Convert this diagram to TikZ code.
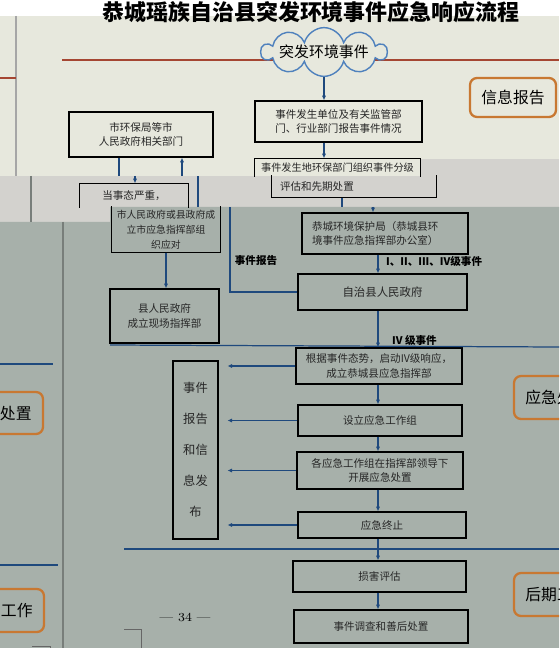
\documentclass[tikz,border=0pt]{standalone}
\usepackage{fontspec}
\usepackage{tikz}
\usetikzlibrary{arrows.meta, positioning, shapes.symbols}
\newfontfamily\cjk{Noto Sans CJK SC}
\definecolor{pagebeige}{RGB}{231,232,221}
\definecolor{bandgray}{RGB}{211,210,206}
\definecolor{pagegreen}{RGB}{167,176,170}
\definecolor{flowblue}{RGB}{31,73,125}
\definecolor{cloudblue}{RGB}{79,129,189}
\definecolor{stageorange}{RGB}{200,120,50}
\definecolor{rulered}{RGB}{165,70,50}
\definecolor{edgegray}{RGB}{120,126,122}
\tikzset{
  box/.style={draw=black, line width=0.8pt, inner sep=1pt, align=center,
    font=\cjk\fontsize{6}{8.5}\selectfont, text=black!85},
  part/.style={box, draw=none},
  rim/.style={draw=black, line width=0.8pt},
  stage/.style={draw=stageorange, line width=1.3pt, rounded corners=4pt,
    minimum width=1.72cm, font=\cjk\fontsize{9}{10}\selectfont},
  flow/.style={draw=flowblue, line width=0.7pt, -{Latex[length=2.6pt,width=2.4pt]}},
  link/.style={draw=flowblue, line width=0.7pt},
  tag/.style={font=\cjk\bfseries\fontsize{6}{7}\selectfont}
}
\begin{document}
\begin{tikzpicture}[x=0.02cm, y=-0.02cm]
        \useasboundingbox (0,0) rectangle (559,648);
        \clip (0,0) rectangle (559,648);
        \fill[white] (0,0) rectangle (559,16);
        \fill[pagebeige] (0,16) rectangle (559,176);
        \fill[bandgray] (0,176) rectangle (559,222);
        \fill[bandgray] (420,159) rectangle (559,176);
        \fill[pagegreen] (0,222) -- (110,222) -- (110,207) -- (559,207)
          -- (559,648) -- (0,648) -- cycle;
        \draw[gray!70, line width=1pt] (16,16) -- (16,176);
        \draw[edgegray, line width=1pt] (31,176) -- (31,222);
        \draw[edgegray, line width=1.1pt] (63,222) -- (63,648);
        \draw[rulered, line width=0.7pt] (62,60) -- (559,60);
        \draw[rulered, line width=0.7pt] (0,78) -- (16,78);
        \draw[black!60, line width=0.5pt] (124,629) -| (141,648);
        \draw[black!60, line width=0.5pt] (32,646) -| (50,648);

        \node[font=\cjk\bfseries\fontsize{12.5}{13}\selectfont] (title) at (311,12)
          {恭城瑶族自治县突发环境事件应急响应流程};
        \node[cloud, cloud puffs=10, cloud ignores aspect, draw=cloudblue, line width=0.8pt,
          fill=pagebeige, minimum width=2.5cm, minimum height=0.9cm, inner sep=0pt,
          font=\cjk\fontsize{8.5}{9}\selectfont] (event) at (324,52) {突发环境事件};

        \node[stage, minimum height=0.78cm] (info) at (513,97.5) {信息报告};
        \node[stage, minimum height=0.86cm] (emerg) at (557,397.5) {应急处置};
        \node[stage, minimum height=0.86cm] (later) at (557,594.5) {后期工作};
        \node[stage, minimum height=0.84cm] (emergL) at (0,413) {应急处置};
        \node[stage, minimum height=0.86cm] (laterL) at (1,610.5) {后期工作};

        \node[box, minimum width=3.34cm, minimum height=0.82cm] (occur) at (338.5,121.5)
          {事件发生单位及有关监管部\\门、行业部门报告事件情况};
        \node[part, minimum width=3.3cm, minimum height=0.34cm,
          font=\cjk\fontsize{5.8}{8.5}\selectfont] (assesstop) at (337.5,167.5)
          {事件发生地环保部门组织事件分级};
        \draw[rim] (assesstop.south west) |- (assesstop.north east) -- (assesstop.south east);
        \node[part, text width=2.96cm, inner xsep=0.16cm, minimum height=0.42cm, align=left]
          (assess) at (354,186.5) {评估和先期处置};
        \draw[rim] (assess.north west) |- (assess.south east) -- (assess.north east);
        \node[box, text width=2.92cm, inner xsep=0.2cm, minimum height=0.82cm, align=left]
          (bureau) at (385,233.5) {恭城环境保护局（恭城县环\\境事件应急指挥部办公室）};
        \node[box, minimum width=3.38cm, minimum height=0.72cm,
          font=\cjk\fontsize{6.5}{8.5}\selectfont] (countygov) at (382.5,292) {自治县人民政府};
        \node[box, minimum width=3.32cm, minimum height=0.72cm] (respond) at (379,366)
          {根据事件态势，启动IV级响应，\\成立恭城县应急指挥部};
        \node[box, minimum width=3.28cm, minimum height=0.62cm] (groups) at (380,420.5)
          {设立应急工作组};
        \node[box, minimum width=3.32cm, minimum height=0.74cm] (dispose) at (380,470.5)
          {各应急工作组在指挥部领导下\\开展应急处置};
        \node[box, minimum width=3.36cm, minimum height=0.52cm] (terminate) at (382,525)
          {应急终止};
        \node[box, minimum width=3.46cm, minimum height=0.62cm] (damage) at (379.5,576.5)
          {损害评估};
        \node[box, minimum width=3.48cm, minimum height=0.66cm] (aftermath) at (381,626.5)
          {事件调查和善后处置};

        \node[box, minimum width=2.88cm, minimum height=0.9cm] (cityorg) at (141,134.5)
          {市环保局等市\\人民政府相关部门};
        \node[part, minimum width=2.16cm, minimum height=0.46cm] (severetop) at (134,195.5)
          {当事态严重，};
        \draw[rim] (severetop.south west) |- (severetop.north east) -- (severetop.south east);
        \node[part, minimum width=2.16cm, minimum height=0.9cm,
          font=\cjk\fontsize{5.6}{8.5}\selectfont] (severe) at (166,229.5)
          {市人民政府或县政府成\\立市应急指挥部组\\织应对};
        \draw[rim] (severe.north west) |- (severe.south east) -- (severe.north east);
        \node[box, minimum width=2.18cm, minimum height=1.08cm] (scene) at (164.5,316)
          {县人民政府\\成立现场指挥部};
        \node[box, minimum width=0.9cm, minimum height=3.56cm,
          font=\cjk\fontsize{7}{17.6}\selectfont] (publish) at (195.5,450)
          {事件\\报告\\和信\\息发\\布};

        \node[tag] (rptlbl) at (256,261) {事件报告};
        \node[tag, anchor=west] (lvlall) at (380,261) {I、II、III、IV级事件};
        \node[tag, anchor=west] (lvlfour) at (386,340) {IV 级事件};
        \node[font=\fontsize{7}{8}\selectfont] (pageno) at (185,617) {\textemdash\ 34 \textemdash};

        \coordinate (spine) at (378,0);
        \draw[flow] (event.south) -- (occur.north -| event.south);
        \draw[flow] (occur.south -| event.south) -- (assesstop.north -| event.south);
        \coordinate (tick1) at (342,207);
        \coordinate (tick2) at (373,207);
        \draw[link] (assess.south -| tick1) -- (tick1);
        \draw[flow] (tick2) -- (bureau.north -| tick2);
        \draw[flow] (bureau.south -| spine) -- (countygov.north -| spine);
        \draw[flow] (countygov.south -| spine) -- (respond.north -| spine);
        \draw[flow] (respond.south -| spine) -- (groups.north -| spine);
        \draw[flow] (groups.south -| spine) -- (dispose.north -| spine);
        \draw[flow] (dispose.south -| spine) -- (terminate.north -| spine);
        \draw[flow] (terminate.south -| spine) -- (damage.north -| spine);
        \draw[flow] (damage.south -| spine) -- (aftermath.north -| spine);
        \foreach \src in {respond, groups, dispose, terminate}
          \draw[flow, shorten >=5pt] (\src.west) -- (publish.east |- \src.west);

        \coordinate (dn1) at (119,176);
        \coordinate (dn2) at (135,176);
        \draw[link] (cityorg.south -| dn1) -- (dn1);
        \draw[flow] (dn2) -- (severetop.north -| dn2);
        \draw[flow] (severe.south) -- (scene.north -| severe.south);
        \coordinate (rp1) at (230,207);
        \coordinate (rp2) at (198,207);
        \coordinate (rp3) at (198,176);
        \coordinate (rp4) at (182,176);
        \draw[link] (countygov.west) -| (rp1);
        \draw[link] (rp2) -- (rp3);
        \draw[flow] (rp4) -- (cityorg.south -| rp4);

        \draw[link] (110,345) -- (559,347);
        \draw[link] (124,549) -- (559,549);
        \draw[link] (0,364) -- (53,364);
        \draw[link] (0,565) -- (58,565);
      \end{tikzpicture}
\end{document}
